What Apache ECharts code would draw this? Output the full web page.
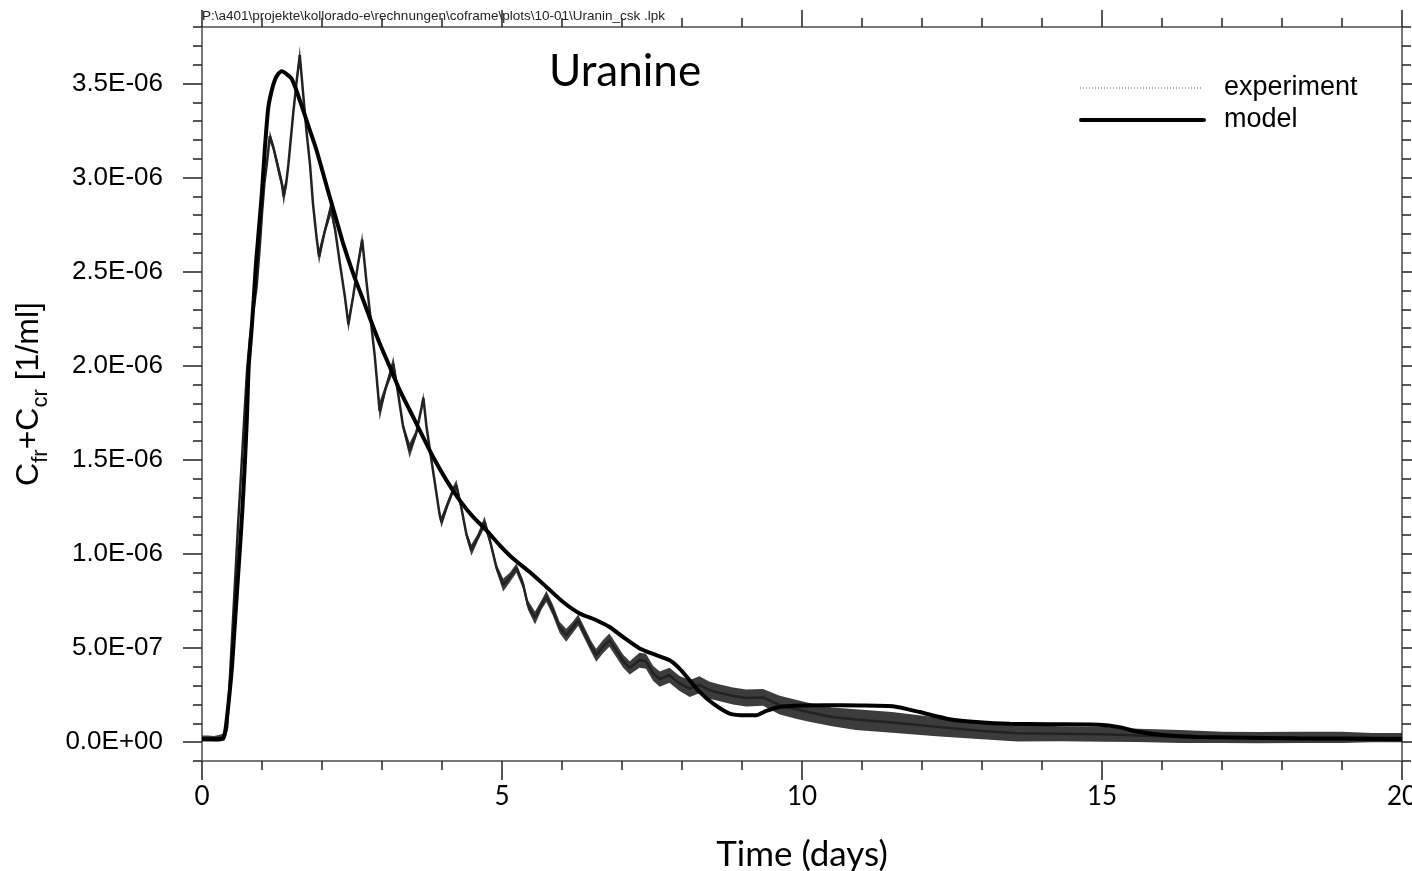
<!DOCTYPE html>
<html><head><meta charset="utf-8">
<script src="https://cdn.jsdelivr.net/npm/echarts@6/dist/echarts.min.js"></script>
<style>html,body{margin:0;padding:0;background:#fff;overflow:hidden;width:1412px;height:871px}#c{width:1412px;height:871px}</style>
</head><body><div id="c"></div>
<script>
// concentrations in units of 1e-6 per ml
const expTime = [0,0.1,0.2,0.3,0.38,0.42,0.45,0.50,0.55,0.60,0.65,0.70,0.75,0.80,0.86,0.91,0.96,1.00,1.04,1.08,1.13,1.19,1.27,1.33,1.36,1.40,1.44,1.52,1.58,1.63,1.69,1.74,1.80,1.85,1.91,1.95,2.05,2.15,2.22,2.30,2.38,2.44,2.52,2.60,2.67,2.74,2.80,2.88,2.96,3.07,3.19,3.27,3.35,3.46,3.57,3.66,3.69,3.74,3.80,3.88,3.96,3.99,4.10,4.18,4.24,4.32,4.41,4.49,4.60,4.71,4.80,4.91,5.02,5.13,5.24,5.35,5.43,5.55,5.66,5.74,5.85,5.96,6.07,6.18,6.27,6.38,6.49,6.57,6.68,6.79,6.90,7.02,7.13,7.29,7.40,7.52,7.63,7.79,7.96,8.13,8.29,8.46,8.63,8.85,9.07,9.35,9.63,9.90,10.1,10.5,10.9,11.5,12.3,13.0,13.6,14.3,15.0,15.6,16.3,17.0,17.6,18.3,19.0,19.5,20.0];
const expConc = [0.02,0.02,0.018,0.022,0.03,0.08,0.25,0.55,0.85,1.15,1.42,1.70,1.97,2.15,2.30,2.42,2.62,2.81,2.97,3.07,3.22,3.16,3.05,2.97,2.90,2.96,3.07,3.34,3.52,3.65,3.43,3.25,3.07,2.86,2.68,2.58,2.72,2.84,2.72,2.54,2.37,2.22,2.37,2.54,2.67,2.45,2.28,2.05,1.76,1.89,2.01,1.85,1.68,1.55,1.64,1.78,1.83,1.68,1.55,1.38,1.21,1.17,1.27,1.335,1.365,1.25,1.10,1.02,1.09,1.17,1.07,0.925,0.835,0.875,0.925,0.84,0.73,0.66,0.73,0.775,0.70,0.61,0.568,0.61,0.648,0.577,0.506,0.462,0.506,0.542,0.489,0.43,0.395,0.435,0.43,0.365,0.335,0.356,0.312,0.285,0.305,0.276,0.262,0.245,0.235,0.238,0.197,0.175,0.16,0.134,0.12,0.105,0.08,0.06,0.048,0.045,0.042,0.036,0.03,0.026,0.024,0.025,0.026,0.024,0.024];
const expSpread = [0.015,0.015,0.015,0.018,0.02,0.02,0.015,0.012,0.012,0.012,0.012,0.012,0.012,0.015,0.015,0.015,0.015,0.015,0.015,0.02,0.03,0.02,0.03,0.03,0.05,0.03,0.02,0.02,0.03,0.05,0.02,0.02,0.02,0.02,0.02,0.04,0.02,0.04,0.02,0.02,0.02,0.04,0.02,0.02,0.04,0.02,0.02,0.02,0.05,0.02,0.04,0.02,0.02,0.04,0.02,0.02,0.03,0.02,0.02,0.02,0.02,0.03,0.02,0.02,0.03,0.02,0.02,0.03,0.02,0.03,0.02,0.02,0.035,0.025,0.025,0.025,0.025,0.035,0.025,0.03,0.03,0.03,0.035,0.03,0.03,0.03,0.03,0.035,0.035,0.035,0.035,0.035,0.035,0.04,0.04,0.04,0.04,0.04,0.04,0.045,0.045,0.045,0.045,0.045,0.045,0.045,0.05,0.05,0.05,0.05,0.055,0.055,0.05,0.045,0.045,0.04,0.04,0.035,0.035,0.03,0.03,0.03,0.03,0.025,0.025];
const modelTime = [0,0.2,0.35,0.388,0.44,0.50,0.555,0.611,0.666,0.711,0.749,0.778,0.821,0.861,0.899,0.994,1.049,1.104,1.16,1.216,1.27,1.327,1.41,1.494,1.577,1.687,1.799,1.91,2.02,2.13,2.243,2.353,2.52,2.686,2.826,2.964,3.131,3.297,3.519,3.685,3.852,4.075,4.296,4.518,4.741,4.963,5.184,5.462,5.740,6.017,6.295,6.573,6.794,7.016,7.294,7.572,7.794,7.960,8.127,8.293,8.515,8.793,9.07,9.237,9.404,9.625,10.0,10.4,10.96,11.54,11.96,12.46,12.96,13.46,14.12,14.95,15.29,15.6,16.0,16.6,18.3,20];
const modelConc = [0.015,0.015,0.02,0.06,0.2,0.40,0.665,0.93,1.197,1.46,1.73,1.996,2.17,2.35,2.54,2.90,3.16,3.37,3.46,3.52,3.55,3.565,3.55,3.525,3.46,3.357,3.25,3.144,3.02,2.896,2.772,2.649,2.49,2.35,2.23,2.117,1.993,1.869,1.728,1.621,1.515,1.391,1.285,1.197,1.126,1.046,0.976,0.904,0.825,0.745,0.684,0.648,0.612,0.559,0.498,0.462,0.435,0.391,0.329,0.267,0.206,0.152,0.143,0.143,0.166,0.187,0.195,0.196,0.195,0.19,0.16,0.122,0.106,0.098,0.095,0.093,0.08,0.055,0.038,0.028,0.02,0.016];
const yMajorTicks = [0,0.5,1.0,1.5,2.0,2.5,3.0,3.5];
const xLabelTicks = [0,5,10,15,20];
const seriesNames = ['experiment', 'model'];
const chartTitle = 'Uranine';
const filePath = 'P:\\a401\\projekte\\kollorado-e\\rechnungen\\coframe\\plots\\10-01\\Uranin_csk .lpk';

function sci(micro) {
  const v = micro * 1e-6;
  if (Math.abs(v) < 1e-15) return '0.0E+00';
  let e = Math.floor(Math.log10(Math.abs(v)) + 1e-9);
  let ms = (v / Math.pow(10, e)).toFixed(1);
  if (ms === '10.0') { e += 1; ms = (v / Math.pow(10, e)).toFixed(1); }
  const ea = Math.abs(e);
  return ms + 'E' + (e < 0 ? '-' : '+') + (ea < 10 ? '0' : '') + ea;
}

const expCenter = expTime.map((t, i) => [t, expConc[i]]);
const modelData = modelTime.map((t, i) => [t, modelConc[i]]);

const AX = '#777', TK = '#222';
const SANS = 'Liberation Sans', CAL = 'Lato';
const baseX = {type: 'value', min: 0, max: 20, splitLine: {show: false}};
const baseY = {type: 'value', min: -0.1, max: 3.8, splitLine: {show: false}};

function bandItem(params, api) {
  const pts = [];
  for (let i = 0; i < expTime.length; i++) pts.push(api.coord([expTime[i], expConc[i] + expSpread[i]]));
  for (let i = expTime.length - 1; i >= 0; i--) pts.push(api.coord([expTime[i], expConc[i] - expSpread[i]]));
  return {type: 'polygon', shape: {points: pts}, style: {fill: '#1a1a1a', opacity: 0.85, stroke: null}};
}

const chart = echarts.init(document.getElementById('c'), null, {renderer: 'canvas', width: 1412, height: 871});
chart.setOption({
  animation: false,
  backgroundColor: '#fff',
  grid: {left: 202, right: 10, top: 27, bottom: 110, containLabel: false, outerBoundsMode: 'none'},
  graphic: [
    {type: 'text', left: 202, top: 9, style: {text: filePath, font: '13.5px "Liberation Sans"', fill: '#222'}},
    {type: 'text', left: 549, top: 50, style: {text: chartTitle, font: '44px Lato', fill: '#000'}},
    {type: 'line', shape: {x1: 1080, y1: 88, x2: 1203, y2: 88}, style: {stroke: '#555', lineWidth: 1, lineDash: [1, 2]}},
    {type: 'text', x: 1224, y: 88, style: {text: seriesNames[0], font: '27px "Liberation Sans"', fill: '#000', verticalAlign: 'middle'}},
    {type: 'line', shape: {x1: 1081, y1: 120, x2: 1204, y2: 120}, style: {stroke: '#000', lineWidth: 4, lineCap: 'round'}},
    {type: 'text', x: 1224, y: 120, style: {text: seriesNames[1], font: '27px "Liberation Sans"', fill: '#000', verticalAlign: 'middle'}}
  ],
  xAxis: [
    Object.assign({}, baseX, {position: 'bottom', interval: 1,
      axisLine: {show: true, onZero: false, lineStyle: {color: AX, width: 2}},
      axisTick: {show: true, length: 9, lineStyle: {color: TK, width: 1.5}},
      axisLabel: {formatter: v => xLabelTicks.indexOf(v) >= 0 ? String(v) : '', fontFamily: CAL, fontSize: 26, color: '#000', margin: 23},
      name: 'Time (days)', nameLocation: 'middle', nameGap: 76,
      nameTextStyle: {fontFamily: CAL, fontSize: 35, color: '#000'}}),
    Object.assign({}, baseX, {position: 'bottom', interval: 5,
      axisLine: {show: false, onZero: false},
      axisTick: {show: true, length: 19, lineStyle: {color: TK, width: 1.5}},
      axisLabel: {show: false}}),
    Object.assign({}, baseX, {position: 'top', interval: 1,
      axisLine: {show: true, onZero: false, lineStyle: {color: AX, width: 2}},
      axisTick: {show: true, length: 9, lineStyle: {color: TK, width: 1.5}},
      axisLabel: {show: false}}),
    Object.assign({}, baseX, {position: 'top', interval: 5,
      axisLine: {show: false, onZero: false},
      axisTick: {show: true, length: 17, lineStyle: {color: TK, width: 1.5}},
      axisLabel: {show: false}})
  ],
  yAxis: [
    Object.assign({}, baseY, {position: 'left', interval: 0.1,
      axisLine: {show: true, onZero: false, lineStyle: {color: AX, width: 2}},
      axisTick: {show: true, length: 9, lineStyle: {color: TK, width: 1.5}},
      axisLabel: {formatter: v => (v >= -1e-9 && Math.abs(v * 2 - Math.round(v * 2)) < 1e-6) ? sci(v) : '',
        fontFamily: SANS, fontSize: 26, color: '#000', margin: 39},
      name: '{m|C}{s|fr}{m|+C}{s|cr}{m| [1/ml]}', nameLocation: 'middle', nameRotate: 90, nameGap: 150,
      nameTextStyle: {rich: {
        m: {fontFamily: SANS, fontSize: 32, lineHeight: 46, color: '#000'},
        s: {fontFamily: SANS, fontSize: 22, verticalAlign: 'bottom', color: '#000'}
      }}}),
    Object.assign({}, baseY, {position: 'left', interval: 0.1,
      axisLine: {show: false, onZero: false},
      axisTick: {show: true, length: 19, customValues: yMajorTicks, lineStyle: {color: TK, width: 1.5}},
      axisLabel: {show: false}}),
    Object.assign({}, baseY, {position: 'right', interval: 0.1,
      axisLine: {show: true, onZero: false, lineStyle: {color: AX, width: 2}},
      axisTick: {show: true, length: 9, lineStyle: {color: TK, width: 1.5}},
      axisLabel: {show: false}}),
    Object.assign({}, baseY, {position: 'right', interval: 0.1,
      axisLine: {show: false, onZero: false},
      axisTick: {show: true, length: 17, customValues: yMajorTicks, lineStyle: {color: TK, width: 1.5}},
      axisLabel: {show: false}})
  ],
  series: [
    {name: 'experimentBand', type: 'custom', renderItem: bandItem, data: [[0, 0]], clip: true, silent: true, z: 2},
    {name: seriesNames[0], type: 'line', data: expCenter, symbol: 'none',
      lineStyle: {color: '#222', width: 2.5}, z: 3},
    {name: seriesNames[1], type: 'line', data: modelData, symbol: 'none', smooth: 0.2,
      lineStyle: {color: '#000', width: 4}, z: 4}
  ]
});
</script>
</body></html>
